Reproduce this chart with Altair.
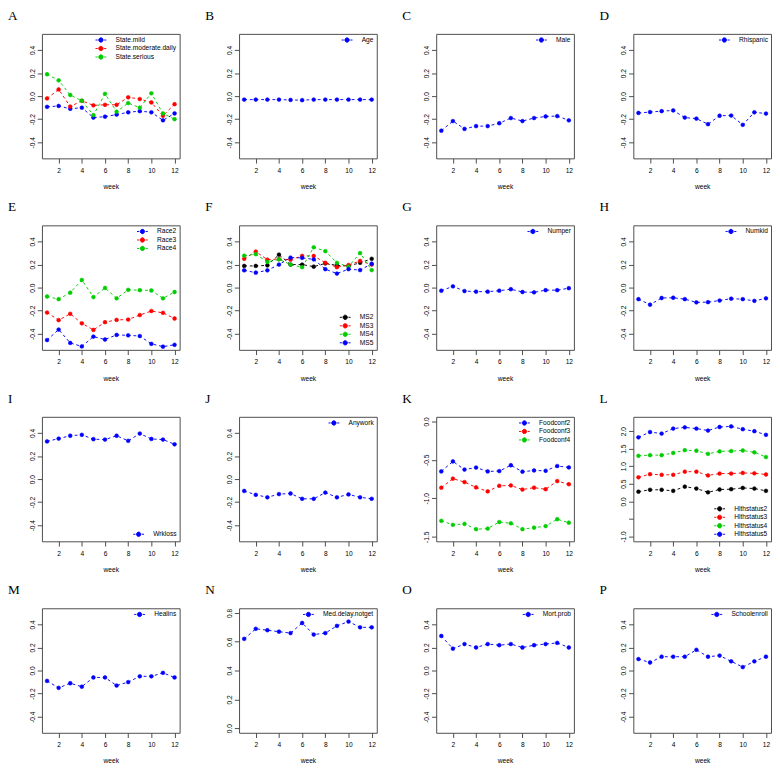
import altair as alt
import pandas as pd

weeks = list(range(1, 13))

# A
state_mild = [-0.093, -0.085, -0.11, -0.10, -0.186, -0.178, -0.16, -0.14, -0.13, -0.14, -0.21, -0.15]
state_moderate_daily = [-0.02, 0.058, -0.09, -0.04, -0.08, -0.075, -0.075, -0.01, -0.025, -0.055, -0.17, -0.07]
state_serious = [0.19, 0.137, 0.01, -0.04, -0.165, 0.02, -0.135, -0.06, -0.10, 0.025, -0.15, -0.20]
# B
age = [-0.03, -0.03, -0.03, -0.03, -0.033, -0.035, -0.03, -0.03, -0.03, -0.03, -0.03, -0.03]
# C
male = [-0.30, -0.216, -0.284, -0.26, -0.26, -0.235, -0.19, -0.216, -0.19, -0.176, -0.173, -0.21]
# D
rhispanic = [-0.146, -0.138, -0.13, -0.124, -0.186, -0.195, -0.243, -0.17, -0.168, -0.249, -0.14, -0.151]
# E
race2 = [-0.455, -0.364, -0.48, -0.51, -0.425, -0.45, -0.41, -0.414, -0.42, -0.488, -0.512, -0.496]
race3 = [-0.216, -0.282, -0.227, -0.31, -0.367, -0.30, -0.28, -0.277, -0.238, -0.203, -0.219, -0.268]
race4 = [-0.077, -0.10, -0.044, 0.066, -0.082, -0.003, -0.093, -0.019, -0.022, -0.025, -0.093, -0.038]
# F
ms2 = [0.188, 0.188, 0.193, 0.286, 0.20, 0.20, 0.182, 0.21, 0.193, 0.188, 0.215, 0.25]
ms3 = [0.25, 0.313, 0.242, 0.248, 0.242, 0.275, 0.275, 0.215, 0.177, 0.196, 0.231, 0.20]
ms4 = [0.277, 0.29, 0.223, 0.245, 0.20, 0.177, 0.35, 0.316, 0.215, 0.182, 0.30, 0.152]
ms5 = [0.15, 0.13, 0.15, 0.20, 0.26, 0.258, 0.245, 0.16, 0.122, 0.16, 0.152, 0.207]
# G
numper = [-0.027, 0.011, -0.03, -0.035, -0.035, -0.027, -0.014, -0.038, -0.041, -0.022, -0.022, -0.005]
# H
numkid = [-0.10, -0.148, -0.09, -0.088, -0.10, -0.128, -0.126, -0.112, -0.096, -0.10, -0.115, -0.093]
# I
wrkloss = [0.327, 0.351, 0.376, 0.384, 0.346, 0.343, 0.376, 0.332, 0.395, 0.348, 0.343, 0.302]
# J
anywork = [-0.103, -0.136, -0.158, -0.13, -0.125, -0.171, -0.171, -0.117, -0.158, -0.133, -0.158, -0.171]
# K
foodconf2 = [-0.65, -0.52, -0.626, -0.60, -0.65, -0.646, -0.57, -0.654, -0.638, -0.642, -0.58, -0.598]
foodconf3 = [-0.862, -0.744, -0.789, -0.858, -0.91, -0.837, -0.833, -0.886, -0.862, -0.882, -0.776, -0.817]
foodconf4 = [-1.293, -1.345, -1.333, -1.402, -1.394, -1.309, -1.325, -1.402, -1.382, -1.362, -1.272, -1.317]
# L
hlth2 = [0.276, 0.33, 0.33, 0.30, 0.42, 0.365, 0.258, 0.338, 0.347, 0.383, 0.365, 0.30]
hlth3 = [0.686, 0.775, 0.757, 0.757, 0.846, 0.846, 0.739, 0.793, 0.793, 0.81, 0.80, 0.766]
hlth4 = [1.30, 1.318, 1.318, 1.38, 1.46, 1.443, 1.354, 1.425, 1.434, 1.45, 1.398, 1.264]
hlth5 = [1.825, 1.977, 1.932, 2.075, 2.11, 2.075, 2.02, 2.12, 2.137, 2.057, 2.0, 1.897]
# M
healins = [-0.09, -0.15, -0.11, -0.14, -0.06, -0.06, -0.13, -0.10, -0.05, -0.05, -0.02, -0.06]
# N
med_delay = [0.62, 0.69, 0.68, 0.67, 0.66, 0.73, 0.65, 0.66, 0.71, 0.74, 0.70, 0.70]
# O
mort_prob = [0.30, 0.19, 0.23, 0.20, 0.23, 0.22, 0.23, 0.20, 0.22, 0.23, 0.24, 0.20]
# P
schoolenroll = [0.10, 0.07, 0.12, 0.12, 0.12, 0.18, 0.12, 0.13, 0.08, 0.03, 0.08, 0.12]

BLUE, RED, GREEN, BLACK = "#0000FF", "#FF0000", "#00CD00", "#000000"
STD_DOM = [-0.54, 0.54]
STD_TICKS = [-0.4, -0.2, 0.0, 0.2, 0.4]
LEG_PATH = "M-2.5,0L-1.5,0M1.5,0L2.5,0M1,0A1,1,0,1,1,-1,0A1,1,0,1,1,1,0Z"
FONT = "Liberation Sans"
W, H = 146, 132


def panel(letter, names, series, colors, ydom, yticks, orient="top-right", hide=None):
    rows = []
    for n, vals in zip(names, series):
        for w, v in zip(weeks, vals):
            rows.append({"week": w, "value": v, "series": n})
    df = pd.DataFrame(rows)
    expr = "replace(format(datum.value, '.1f'), '\u2212', '-')"
    if hide is not None:
        expr = "datum.value == %s ? '' : %s" % (hide, expr)
    xenc = alt.X("week:Q", scale=alt.Scale(domain=[0.56, 12.44], nice=False, zero=False),
                 axis=alt.Axis(values=[2, 4, 6, 8, 10, 12], format="d", title="week",
                               labelPadding=4, titlePadding=10, labelFlush=False))
    yenc = alt.Y("value:Q", scale=alt.Scale(domain=ydom, nice=False, zero=False),
                 axis=alt.Axis(values=yticks, labelExpr=expr, labelAngle=-90, title=None,
                               labelPadding=2, labelFlush=False))
    sc = alt.Scale(domain=names, range=colors)
    leg = alt.Legend(title=None, orient=orient, offset=3, padding=0,
                     symbolType=LEG_PATH, symbolSize=21, symbolStrokeWidth=1,
                     symbolOpacity=1, labelFont=FONT, labelFontSize=7, labelColor="black",
                     labelOffset=12, rowPadding=0)
    base = alt.Chart(df)
    layers = []
    for n, c in zip(names, colors):
        layers.append(base.transform_filter(alt.datum.series == n).mark_line(
            strokeDash=[3, 3], strokeWidth=1, color=c).encode(x=xenc, y=yenc))
    pts = base.mark_point(filled=True, shape="circle", size=16, opacity=1,
                          strokeWidth=0.6).encode(
        x=xenc, y=yenc,
        fill=alt.Fill("series:N", scale=sc, legend=leg),
        stroke=alt.Stroke("series:N", scale=sc, legend=leg))
    layers.append(pts)
    return alt.layer(*layers).properties(
        width=W, height=H,
        title=alt.TitleParams(letter, anchor="start", dx=-22, font="Liberation Serif",
                              fontSize=14, fontWeight="normal", offset=1, color="black",
                              baseline="alphabetic"))


panels = [
    panel("A", ["State.mild", "State.moderate.daily", "State.serious"],
          [state_mild, state_moderate_daily, state_serious], [BLUE, RED, GREEN], STD_DOM, STD_TICKS),
    panel("B", ["Age"], [age], [BLUE], STD_DOM, STD_TICKS),
    panel("C", ["Male"], [male], [BLUE], STD_DOM, STD_TICKS),
    panel("D", ["Rhispanic"], [rhispanic], [BLUE], STD_DOM, STD_TICKS),
    panel("E", ["Race2", "Race3", "Race4"], [race2, race3, race4], [BLUE, RED, GREEN], STD_DOM, STD_TICKS),
    panel("F", ["MS2", "MS3", "MS4", "MS5"], [ms2, ms3, ms4, ms5], [BLACK, RED, GREEN, BLUE],
          STD_DOM, STD_TICKS, orient="bottom-right"),
    panel("G", ["Numper"], [numper], [BLUE], STD_DOM, STD_TICKS),
    panel("H", ["Numkid"], [numkid], [BLUE], STD_DOM, STD_TICKS),
    panel("I", ["Wrkloss"], [wrkloss], [BLUE], STD_DOM, STD_TICKS, orient="bottom-right"),
    panel("J", ["Anywork"], [anywork], [BLUE], STD_DOM, STD_TICKS),
    panel("K", ["Foodconf2", "Foodconf3", "Foodconf4"], [foodconf2, foodconf3, foodconf4],
          [BLUE, RED, GREEN], [-1.56, 0.06], [-1.5, -1.0, -0.5, 0.0]),
    panel("L", ["Hlthstatus2", "Hlthstatus3", "Hlthstatus4", "Hlthstatus5"], [hlth2, hlth3, hlth4, hlth5],
          [BLACK, RED, GREEN, BLUE], [-1.14, 2.41], [-1.0, -0.5, 0.0, 0.5, 1.0, 1.5, 2.0],
          orient="bottom-right", hide=-0.5),
    panel("M", ["Healins"], [healins], [BLUE], STD_DOM, STD_TICKS),
    panel("N", ["Med.delay.notget"], [med_delay], [BLUE], [-0.032, 0.832], [0.0, 0.2, 0.4, 0.6, 0.8]),
    panel("O", ["Mort.prob"], [mort_prob], [BLUE], STD_DOM, STD_TICKS),
    panel("P", ["Schoolenroll"], [schoolenroll], [BLUE], STD_DOM, STD_TICKS),
]

IND = dict(fill="independent", stroke="independent")

rows = []
for r in range(4):
    row = alt.hconcat(*panels[4 * r:4 * r + 4], spacing=25)
    row = row.resolve_scale(**IND).resolve_legend(**IND)
    rows.append(row)

chart = alt.vconcat(*rows, spacing=10).resolve_scale(**IND).resolve_legend(**IND)
chart = chart.properties(padding={"left": -1, "top": -23, "right": 0, "bottom": 0}).configure_view(
    stroke="#444444", strokeWidth=1).configure_axis(
    labelFont=FONT, labelFontSize=7, labelColor="black", titleFont=FONT, titleFontSize=7,
    titleFontWeight="normal", titleColor="black", domain=False, grid=False,
    tickColor="#444444", tickSize=5, tickWidth=1)

chart.save("out.html", embed_options={"renderer": "svg", "actions": False})
